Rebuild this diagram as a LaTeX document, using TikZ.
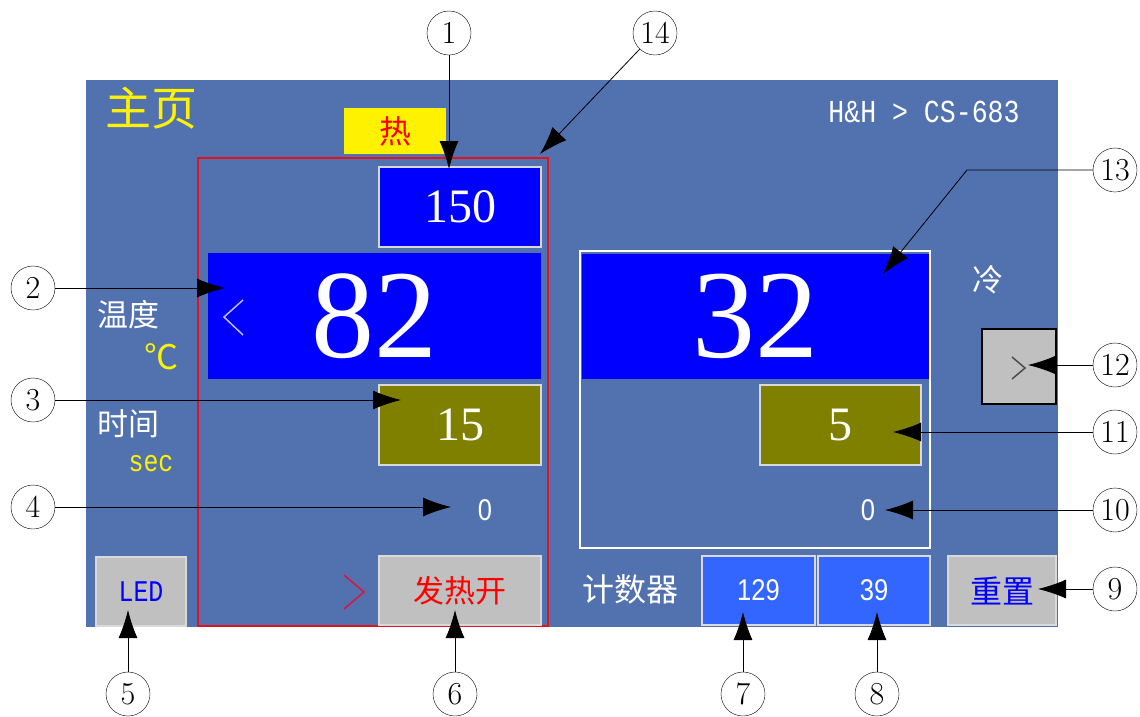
\documentclass[tikz,border=0pt]{standalone}
\usepackage{fontspec}
\newfontfamily\cjk{Noto Sans CJK SC}
\newfontfamily\lcd[FakeStretch=0.83]{Liberation Mono}
\newfontfamily\lcddig[FakeStretch=0.85]{Liberation Sans}
\newfontfamily\numserif{Liberation Serif}
\usetikzlibrary{arrows.meta}
\newcommand\fsz[1]{\fontsize{#1}{#1}\selectfont}
\definecolor{hmibg}{RGB}{82,114,175}
\definecolor{hmiblue}{RGB}{0,0,255}
\definecolor{hmiolive}{RGB}{128,128,0}
\definecolor{hmicount}{RGB}{51,102,255}
\definecolor{hmigray}{RGB}{192,192,192}
\definecolor{hmired}{RGB}{225,20,30}
\definecolor{lavender}{RGB}{190,190,255}
\definecolor{crimson}{RGB}{220,20,60}

\begin{document}
\begin{tikzpicture}[x=1pt,y=-1pt,
  box/.style={inner sep=0pt,outer sep=0pt},
  bevel/.style={box,draw=white!85!black,line width=2.5pt},
  callout/.style={circle,draw,fill=white,minimum size=44pt,inner sep=0pt,font=\fsz{32}},
  callarrow/.style={draw,line width=0.8pt,-{Latex[length=28pt,width=19pt]}}]
\useasboundingbox (0,0) rectangle (1140,716);
% screen
\fill[hmibg] (86,80) rectangle (1058,627);
\node[box,text=yellow,font=\cjk\fsz{46}] (title) at (151,108) {主页};
\node[box,text=white,font=\lcd\fsz{32}] (model) at (924,112) {H\&H > CS-683};
\node[box,fill=yellow,minimum width=102pt,minimum height=46pt,text=red,font=\cjk\fsz{32}] (hot) at (395,131) {热};
\node[box,text=white,font=\cjk\fsz{31}] (templbl) at (128,315) {温度};
\node[box,text=yellow,font=\cjk\fsz{34}] (degc) at (161,357) {℃};
\node[box,text=white,font=\cjk\fsz{31}] (timelbl) at (128,424) {时间};
\node[box,text=yellow,font=\lcd\fsz{30}] (sec) at (151,464) {sec};
\node[box,text=white,font=\cjk\fsz{31}] (cold) at (988,280) {冷};
\node[box,text=white,font=\cjk\fsz{32}] (counter) at (630,589) {计数器};

% heating side
\draw[hmired,line width=2pt] (198,158) rectangle (548,626);
\node[bevel,fill=hmiblue,minimum width=162pt,minimum height=80pt,text=white,font=\numserif\fsz{48}] (setp) at (460,207) {150};
\node[box,fill=hmiblue,minimum width=333pt,minimum height=126pt,text=white,font=\numserif\fsz{126}] (templ) at (374.5,316) {82};
\draw[lavender,line width=1.5pt] (243,300) -- (224,317) -- (243,335);
\node[bevel,fill=hmiolive,minimum width=162pt,minimum height=80pt,text=white,font=\numserif\fsz{48}] (timel) at (460,425) {15};
\node[box,text=white,font=\lcddig\fsz{30}] (zerol) at (485,510) {0};
\draw[crimson,line width=1.5pt] (344,575) -- (364,592) -- (344,609);
\node[bevel,fill=hmigray,minimum width=162pt,minimum height=69pt,text=red,font=\cjk\fsz{31}] (heat) at (460,590.5) {发热开};
\node[bevel,fill=hmigray,minimum width=90pt,minimum height=69pt,text=hmiblue,font=\lcd\fsz{30}] (led) at (141,591.5) {LED};

% cooling side
\draw[white,line width=1.5pt] (580,251) rectangle (930,548);
\node[box,fill=hmiblue,minimum width=347pt,minimum height=125pt,text=white,font=\numserif\fsz{126}] (tempr) at (755.5,316.5) {32};
\node[bevel,fill=hmiolive,minimum width=161pt,minimum height=80pt,text=white,font=\numserif\fsz{48}] (timer) at (840.5,425) {5};
\node[box,text=white,font=\lcddig\fsz{30}] (zeror) at (868,510) {0};
\node[box,draw=black,line width=2pt,fill=hmigray,minimum width=74pt,minimum height=75pt] (coolbtn) at (1019,366.5) {};
\draw[black!70,line width=1.5pt] (1012,357) -- (1025,368) -- (1012,379);
\node[bevel,fill=hmicount,minimum width=113pt,minimum height=69pt,text=white,font=\lcddig\fsz{30}] (cnta) at (758.5,590.5) {129};
\node[bevel,fill=hmicount,minimum width=112pt,minimum height=69pt,text=white,font=\lcddig\fsz{30}] (cntb) at (874,590.5) {39};
\node[bevel,fill=hmigray,minimum width=108pt,minimum height=69pt,text=hmiblue,font=\cjk\fsz{32}] (reset) at (1002,590.5) {重置};

% callouts
\foreach \i/\x/\y in {1/449/33,14/655/33,2/33/288,3/33/400,4/33/507,5/128/694,6/455/694,
  7/743/694,8/877/694,9/1115/589,10/1115/510,11/1115/432,12/1115/365,13/1115/170}
  \node[callout] (n\i) at (\x,\y) {\i};
\foreach \i/\x/\y in {1/449/169,14/540/154,2/225/288,3/401/400,4/451/507,5/128/610,6/455/610,
  7/743/612,8/877/612,9/1038/589,10/885/510,11/893/432,12/1028/365,13/883/274}
  \coordinate (t\i) at (\x,\y);
\coordinate (k13) at (967,170);
\foreach \i in {1,...,12,14}
  \draw[callarrow] (n\i) -- (t\i);
\draw[callarrow] (n13) -- (k13) -- (t13);
\end{tikzpicture}
\end{document}
